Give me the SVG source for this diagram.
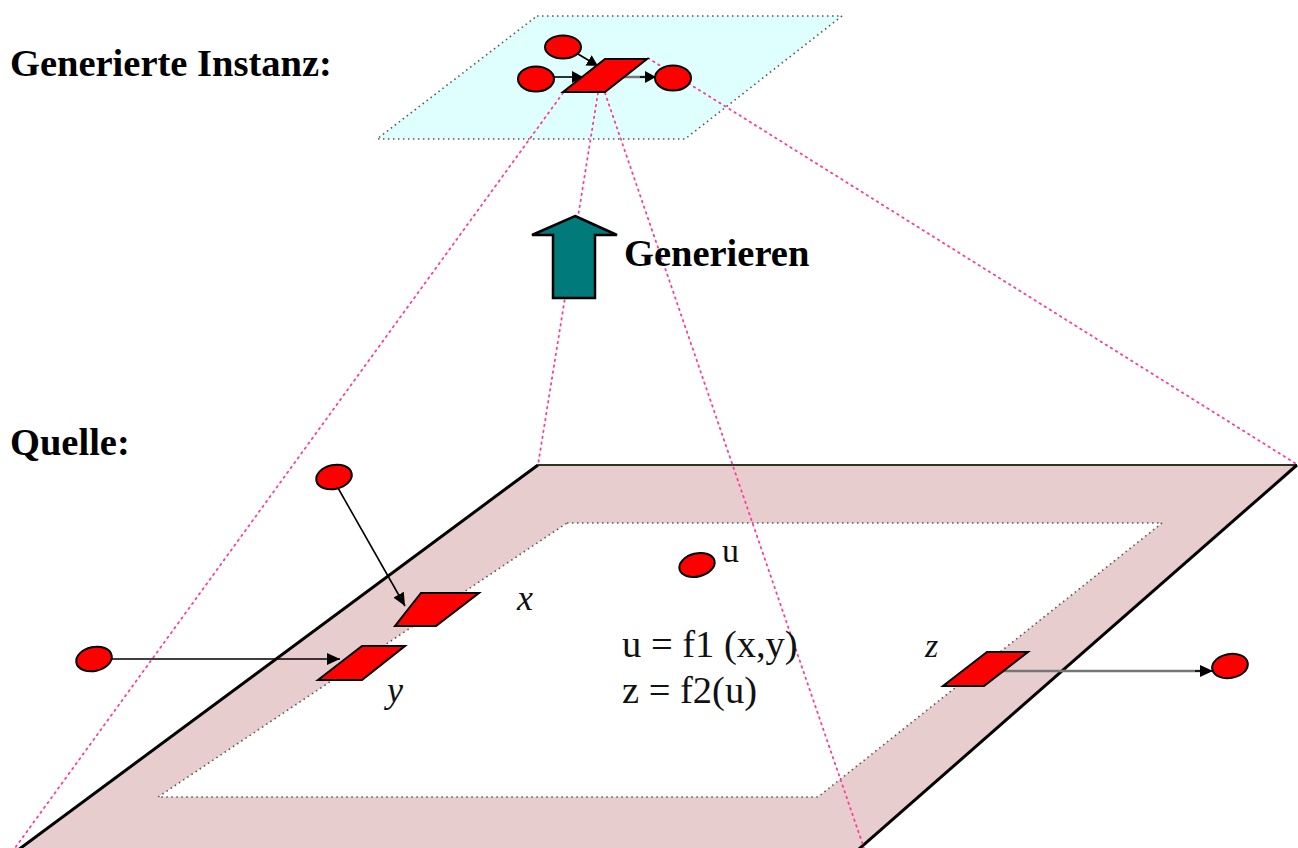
<svg xmlns="http://www.w3.org/2000/svg" width="1298" height="848" viewBox="0 0 1298 848">
<defs>
<marker id="ah" markerUnits="userSpaceOnUse" markerWidth="14" markerHeight="12" refX="13" refY="6" orient="auto">
<path d="M0,0 L13,6 L0,12 z" fill="#000"/>
</marker>
<marker id="ahs" markerUnits="userSpaceOnUse" markerWidth="12" markerHeight="12" refX="11" refY="6" orient="auto">
<path d="M0,0 L11,6 L0,12 z" fill="#000"/>
</marker>
</defs>
<style>
.lbl{font-family:"Liberation Serif","Times New Roman",serif;font-weight:bold;fill:#000}
.txt{font-family:"Liberation Serif","Times New Roman",serif;fill:#111}
.it{font-family:"Liberation Serif","Times New Roman",serif;font-style:italic;fill:#111}
.red{fill:#FF0000;stroke:#000;stroke-width:2}
.proj{fill:none;stroke:#FF3C9A;stroke-width:1.8;stroke-dasharray:1.5 4.5;stroke-linecap:round}
.dot{stroke:#555;stroke-width:1.6;stroke-dasharray:1.5 3.5}
.white{fill:#fff}
.cyan{fill:#DFFFFF}
.arr{fill:none;stroke:#000;stroke-width:1.6}
.garr{fill:none;stroke:#777;stroke-width:2.5}
</style>
<rect width="1298" height="848" fill="#fff"/>

<g id="source-plane">
<polygon points="538,465 1297,465 835,870 -9,870" fill="#E8CDCE"/>
<polygon points="567,523 1162,523 818,797 158,797" class="dot white"/>
<line x1="538" y1="465" x2="1297" y2="465" stroke="#332" stroke-width="2"/>
<line x1="538" y1="465" x2="-9" y2="870" stroke="#000" stroke-width="3"/>
<line x1="1297" y1="465" x2="835" y2="870" stroke="#000" stroke-width="3"/>
</g>

<g id="instance-plane">
<polygon points="537,16 842,16 685,139 377,139" class="dot cyan"/>
</g>

<g id="connectors">
<line class="proj" x1="563" y1="93" x2="15" y2="848"/>
<line class="proj" x1="598" y1="93" x2="538" y2="465"/>
<line class="proj" x1="605" y1="93" x2="864" y2="848"/>
<line class="proj" x1="648" y1="58" x2="1298" y2="465"/>
<line class="arr" x1="578" y1="54" x2="598" y2="66" marker-end="url(#ahs)"/>
<line class="arr" x1="554" y1="77" x2="583" y2="77" marker-end="url(#ahs)"/>
<line class="garr" x1="622" y1="77" x2="645" y2="77"/>
<line class="arr" x1="640" y1="77" x2="656" y2="77" marker-end="url(#ahs)"/>
<line class="arr" x1="338" y1="488" x2="405" y2="606" marker-end="url(#ah)"/>
<line class="arr" x1="112" y1="659" x2="340" y2="659" marker-end="url(#ah)"/>
<line class="garr" x1="995" y1="671" x2="1200" y2="671"/>
<line class="arr" x1="1195" y1="671" x2="1213" y2="671" marker-end="url(#ah)"/>
</g>

<g id="inst-e1"><ellipse class="red" cx="563" cy="47" rx="18" ry="11.5"/></g>
<g id="inst-e2"><ellipse class="red" cx="536" cy="79" rx="18" ry="12.5"/></g>
<g id="inst-e3"><ellipse class="red" cx="673" cy="78" rx="18" ry="12.5"/></g>
<g id="inst-p"><polygon class="red" points="605,59 647,59 605,92 563,92"/></g>

<g id="src-e-top"><ellipse class="red" cx="334" cy="477" rx="18" ry="12" transform="rotate(-12 334 477)"/></g>
<g id="src-e-left"><ellipse class="red" cx="94" cy="659" rx="18" ry="12" transform="rotate(-12 94 659)"/></g>
<g id="src-u"><ellipse class="red" cx="697" cy="565" rx="18" ry="11.5" transform="rotate(-14 697 565)"/>
<text class="txt" x="722" y="562" font-size="34">u</text></g>
<g id="src-x"><polygon class="red" points="421,593 479,593 436,626 395,626"/>
<text class="it" x="517" y="610" font-size="36">x</text></g>
<g id="src-y"><polygon class="red" points="362,646 405,646 362,680 318,680"/>
<text class="it" x="387" y="702" font-size="36">y</text></g>
<g id="src-z"><polygon class="red" points="987,652 1028,652 984,686 943,686"/>
<text class="it" x="925" y="657" font-size="34">z</text></g>
<g id="src-e-right"><ellipse class="red" cx="1230" cy="666" rx="18" ry="12" transform="rotate(-10 1230 666)"/></g>

<g id="generate-arrow">
<polygon points="575,216 617,235 595,235 595,298 553,298 553,235 532,235" fill="#007A7A" stroke="#000" stroke-width="2.5" stroke-linejoin="miter"/>
<text class="lbl" x="624" y="266" font-size="38.5">Generieren</text>
</g>

<g id="labels">
<text class="lbl" x="10" y="76" font-size="38.5">Generierte Instanz:</text>
<text class="lbl" x="10" y="455" font-size="38.5">Quelle:</text>
<text class="txt" x="622" y="657" font-size="38.5">u = f1 (x,y)</text>
<text class="txt" x="622" y="703" font-size="38.5">z = f2(u)</text>
</g>
</svg>
